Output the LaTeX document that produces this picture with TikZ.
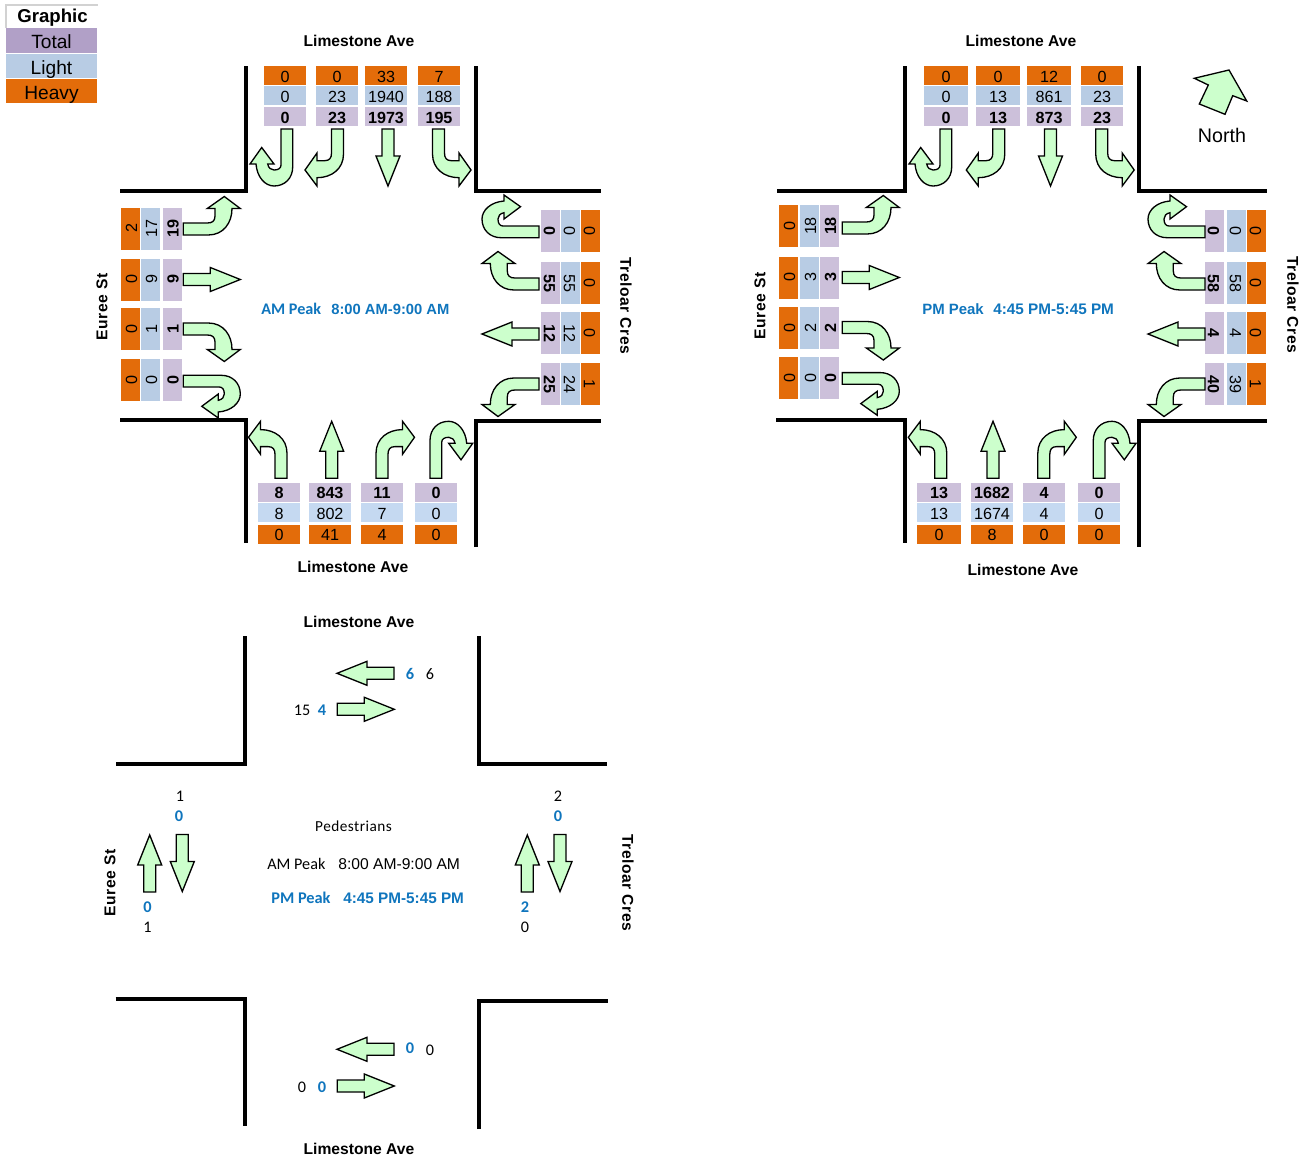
\documentclass[tikz,border=0pt]{standalone}
\usepackage{fontspec}
\usetikzlibrary{positioning}
\setmainfont{Liberation Sans}
\newfontfamily\carlito{Carlito}
\definecolor{heavyc}{HTML}{E36C0A}
\definecolor{lightc}{HTML}{B8CCE4}
\definecolor{lightnb}{HTML}{C5D9F1}
\definecolor{totalc}{HTML}{CCC0DA}
\definecolor{legendtotal}{HTML}{B1A0C7}
\definecolor{pedblue}{HTML}{0F75BD}
\definecolor{arrowfill}{HTML}{CCFFCC}
\def\pxu{0.02cm}
\tikzset{
  cellbox/.style={inner sep=0pt, minimum width=42*\pxu, minimum height=19*\pxu, text height=7.6pt, text depth=0pt, font=\fontsize{9.2}{11}\selectfont},
  heavycell/.style={cellbox, fill=heavyc},
  lightcell/.style={cellbox, fill=lightc},
  lightnbcell/.style={cellbox, fill=lightnb},
  totalcell/.style={cellbox, fill=totalc, font=\fontsize{9.2}{11}\selectfont\bfseries},
  legendcell/.style={inner sep=0pt, minimum width=91*\pxu, minimum height=24.6*\pxu, text height=10pt, text depth=0.4pt, font=\fontsize{10.9}{13}\selectfont},
  street/.style={inner sep=0pt, font=\fontsize{8.9}{11}\selectfont\bfseries},
  streetwide/.style={inner sep=0pt, font=\fontsize{8.9}{11}\selectfont\bfseries\addfontfeature{LetterSpace=3.5}},
  peakbold/.style={inner sep=0pt, anchor=west, text=pedblue, font=\fontsize{8.5}{11}\selectfont\bfseries},
  pednum/.style={inner sep=0pt, font=\carlito\fontsize{9.2}{11}\selectfont},
  pedbold/.style={inner sep=0pt, text=pedblue, font=\carlito\fontsize{9.3}{11}\selectfont\bfseries},
  wall/.style={line width=2.3pt, line cap=butt, line join=miter},
  arrowline/.style={draw=black, fill=arrowfill, line width=0.75pt, line join=miter},
  pics/thruarrow/.style={code={
    \draw[arrowline] (-6,0) -- (-6,27) -- (-12,27) -- (0,57) -- (12,27) -- (6,27) -- (6,0) -- cycle;
  }},
  pics/lturn/.style={code={
    \draw[arrowline] (-6,0) -- (-6,25) .. controls (-6,40) and (6,48.7) .. (20.5,48.7) -- (20.5,57)
      -- (32.5,41) -- (20.5,24) -- (20.5,31.7) -- (13,31.7) .. controls (8,31.7) and (6,29) .. (6,24) -- (6,0) -- cycle;
  }},
  pics/uturn/.style={code={
    \draw[arrowline] (-6,0) -- (-6,36) .. controls (-6,39.5) and (-9,41) .. (-13,41)
      .. controls (-16,41) and (-18.5,39) .. (-19.3,35) -- (-13,35) -- (-25.3,18.5) -- (-37,35) -- (-31,35)
      .. controls (-30,48) and (-22,57) .. (-13,57) .. controls (-2,57) and (5.7,49) .. (5.7,38) -- (5.7,0) -- cycle;
  }},
}
\begin{document}
\begin{tikzpicture}[x=0.02cm, y=-0.02cm]
\useasboundingbox (0,0) rectangle (1311,1156);
% legend
\draw[gray!35, line width=0.8pt] (6,28) -- (6,5) -- (98,5);
\node[inner sep=0pt, font=\fontsize{10.6}{13}\selectfont\bfseries] (legendhead) at (52.5,19.5) {\underline{Graphic}};
\node[legendcell, fill=legendtotal] (legendtot) at (51.5,40.5) {Total};
\node[legendcell, fill=lightc, below=0pt of legendtot] (legendlgt) {Light};
\node[legendcell, fill=heavyc, below=0pt of legendlgt] (legendhvy) {Heavy};
% kerb lines, peak hour plans
\draw[wall] (246,66) -- (246,191.3) -- (120,191.3);
\draw[wall] (476,66) -- (476,191.3) -- (600.7,191.3);
\draw[wall] (120,420) -- (246,420) -- (246,543);
\draw[wall] (476,547) -- (476,421.3) -- (600.7,421.3);
\draw[wall] (904.7,66) -- (904.7,191.3) -- (777.3,191.3);
\draw[wall] (1139,66) -- (1139,191.3) -- (1266.7,191.3);
\draw[wall] (776,420) -- (905,420) -- (905,543);
\draw[wall] (1139,547) -- (1139,421.3) -- (1266.7,421.3);
% kerb lines, pedestrian plan
\draw[wall] (244.7,636) -- (244.7,764.3) -- (115.7,764.3);
\draw[wall] (479,636) -- (479,764.3) -- (606.7,764.3);
\draw[wall] (115.7,999) -- (244.7,999) -- (244.7,1126);
\draw[wall] (479,1129) -- (479,1000.7) -- (608,1000.7);
% southbound counts
\foreach \id/\cx/\hvy/\lgt/\tot/\cw in {a1/285/0/0/0/42, a2/337/0/23/23/42, a3/386/33/1940/1973/42, a4/439/7/188/195/42,
    p1/946/0/0/0/44, p2/998/0/13/13/44, p3/1049/12/861/873/44, p4/1102/0/23/23/42}{
  \node[heavycell, minimum width=\cw*\pxu] (sbh\id) at (\cx,75.7) {\hvy};
  \node[lightcell, minimum width=\cw*\pxu] (sbl\id) at (\cx,95.7) {\lgt};
  \node[totalcell, minimum width=\cw*\pxu] (sbt\id) at (\cx,116.5) {\tot};
}
% northbound counts
\foreach \id/\cx/\hvy/\lgt/\tot/\cw in {a1/279/0/8/8/42, a2/330/41/802/843/42, a3/382/4/7/11/42, a4/436/0/0/0/42,
    p1/939/0/13/13/44, p2/992/8/1674/1682/42, p3/1044/0/4/4/42, p4/1099/0/0/0/42}{
  \node[totalcell, minimum width=\cw*\pxu] (nbt\id) at (\cx,492) {\tot};
  \node[lightnbcell, minimum width=\cw*\pxu] (nbl\id) at (\cx,512.7) {\lgt};
  \node[heavycell, minimum width=\cw*\pxu] (nbh\id) at (\cx,534.3) {\hvy};
}
% eastbound counts
\foreach \id/\xh/\xl/\xt/\cy/\hvy/\lgt/\tot in {a1/130.5/150.5/172/228.5/2/17/19, a2/130.5/150.5/172/279.5/0/9/9,
    a3/130.5/150.5/172/329/0/1/1, a4/130.5/150.5/172/380/0/0/0,
    p1/788.5/809.5/829.5/226/0/18/18, p2/788.5/809.5/829.5/277.5/0/3/3,
    p3/788.5/809.5/829.5/328/0/2/2, p4/788.5/809.5/829.5/378/0/0/0}{
  \node[heavycell, rotate=90] (ebh\id) at (\xh,\cy) {\hvy};
  \node[lightcell, rotate=90] (ebl\id) at (\xl,\cy) {\lgt};
  \node[totalcell, rotate=90] (ebt\id) at (\xt,\cy) {\tot};
}
% westbound counts
\foreach \id/\xt/\xl/\xh/\cy/\tot/\lgt/\hvy in {a1/550.5/570.5/590.5/231/0/0/0, a2/550.5/570.5/590.5/283/55/55/0,
    a3/550.5/570.5/590.5/333/12/12/0, a4/550.5/570.5/590.5/384/25/24/1,
    p1/1214.5/1236.5/1256.5/231/0/0/0, p2/1214.5/1236.5/1256.5/283/58/58/0,
    p3/1214.5/1236.5/1256.5/333/4/4/0, p4/1214.5/1236.5/1256.5/384/40/39/1}{
  \node[totalcell, rotate=-90] (wbt\id) at (\xt,\cy) {\tot};
  \node[lightcell, rotate=-90] (wbl\id) at (\xl,\cy) {\lgt};
  \node[heavycell, rotate=-90] (wbh\id) at (\xh,\cy) {\hvy};
}
% movement arrows
\foreach \ax/\kind/\fl in {287/uturn/1, 337.5/lturn/-1, 388/thruarrow/1, 438.5/lturn/1,
    946/uturn/1, 998.8/lturn/-1, 1050.5/thruarrow/1, 1101.7/lturn/1}
  \pic[xscale=\fl] at (\ax,129) {\kind};
\foreach \ax/\kind/\fl in {281/lturn/1, 331.7/thruarrow/1, 382/lturn/-1, 435.7/uturn/1,
    940.8/lturn/1, 993/thruarrow/1, 1043.8/lturn/-1, 1099/uturn/1}
  \pic[rotate=180, xscale=\fl] at (\ax,478.3) {\kind};
\foreach \ax/\ay/\kind/\fl in {183.3/229/lturn/1, 183.3/279.5/thruarrow/1, 183.3/329/lturn/-1, 183.3/381/uturn/1,
    842.3/228/lturn/1, 842.3/277.5/thruarrow/1, 842.3/327.5/lturn/-1, 842.3/378.3/uturn/1}
  \pic[rotate=90, xscale=\fl] at (\ax,\ay) {\kind};
\foreach \ax/\ay/\kind/\fl in {539/232/uturn/1, 539/284/lturn/-1, 539/334/thruarrow/1, 539/384/lturn/1,
    1205/232/uturn/1, 1205/284/lturn/-1, 1205/334/thruarrow/1, 1205/384/lturn/1}
  \pic[rotate=-90, xscale=\fl] at (\ax,\ay) {\kind};
% north arrow
\draw[arrowline] (1194.3,78.3) -- (1229,70) -- (1246.7,101) -- (1232.7,95.7) -- (1225,114.3) -- (1199.3,104) -- (1208.3,85) -- cycle;
\node[inner sep=0pt, font=\fontsize{11.2}{13}\selectfont] (northlabel) at (1222,135.5) {North};
% street names
\node[street] (amtop) at (359,40.7) {Limestone Ave};
\node[street] (ambottom) at (353,567) {Limestone Ave};
\node[streetwide, rotate=90] (ameure) at (102,307) {Euree St};
\node[streetwide, rotate=-90] (amtreloar) at (626,306) {Treloar Cres};
\node[street] (pmtop) at (1021,40.7) {Limestone Ave};
\node[street] (pmbottom) at (1023,569.7) {Limestone Ave};
\node[streetwide, rotate=90] (pmeure) at (760,306) {Euree St};
\node[streetwide, rotate=-90] (pmtreloar) at (1293,305) {Treloar Cres};
\node[street] (pedtop) at (359,621.7) {Limestone Ave};
\node[street] (pedbottom) at (359,1148.7) {Limestone Ave};
\node[streetwide, rotate=90] (pedeure) at (110,883) {Euree St};
\node[streetwide, rotate=-90] (pedtreloar) at (628,883) {Treloar Cres};
% peak period titles
\node[peakbold, font=\carlito\fontsize{9.2}{11}\selectfont\bfseries] (ampeak) at (261,309) {AM Peak};
\node[peakbold, font=\fontsize{8.4}{11}\selectfont\bfseries] (amtime) at (331,309) {8:00 AM-9:00 AM};
\node[peakbold] (pmpeak) at (922,309) {PM Peak};
\node[peakbold, font=\fontsize{8.7}{11}\selectfont\bfseries] (pmtime) at (993,309) {4:45 PM-5:45 PM};
% pedestrian plan
\node[pednum, font=\carlito\fontsize{8.7}{11}\selectfont\addfontfeature{LetterSpace=3}] (pedtitle) at (353.5,826) {Pedestrians};
\node[pednum, anchor=west] (pedam) at (267,864) {AM Peak};
\node[inner sep=0pt, anchor=west, font=\fontsize{8.9}{11}\selectfont] (pedamtime) at (338,864) {8:00 AM-9:00 AM};
\node[pedbold, anchor=west] (pedpm) at (271,898) {PM Peak};
\node[peakbold, font=\fontsize{8.7}{11}\selectfont\bfseries] (pedpmtime) at (343,898) {4:45 PM-5:45 PM};
\pic[rotate=-90] at (394,673.3) {thruarrow};
\pic[rotate=90] at (337.3,709.3) {thruarrow};
\pic[rotate=-90] at (394,1049.3) {thruarrow};
\pic[rotate=90] at (337.3,1086) {thruarrow};
\pic[rotate=180] at (149.7,892) {thruarrow};
\pic at (182.3,834.5) {thruarrow};
\pic[rotate=180] at (527.3,892) {thruarrow};
\pic at (560,834.5) {thruarrow};
\foreach \id/\cx/\cy/\val in {a/430/674/6, b/302/710/15, c/180/796.5/1, d/147.5/927/1, e/558/796.5/2, f/525/927/0, g/430/1050/0, h/302/1087/0}
  \node[pednum] (pedn\id) at (\cx,\cy) {\val};
\foreach \id/\cx/\cy/\val in {a/410/674/6, b/322/710/4, c/179/816/0, d/147.5/907/0, e/558/816/0, f/525/907/2, g/410/1048/0, h/322/1087/0}
  \node[pedbold] (pedb\id) at (\cx,\cy) {\val};
\end{tikzpicture}
\end{document}
